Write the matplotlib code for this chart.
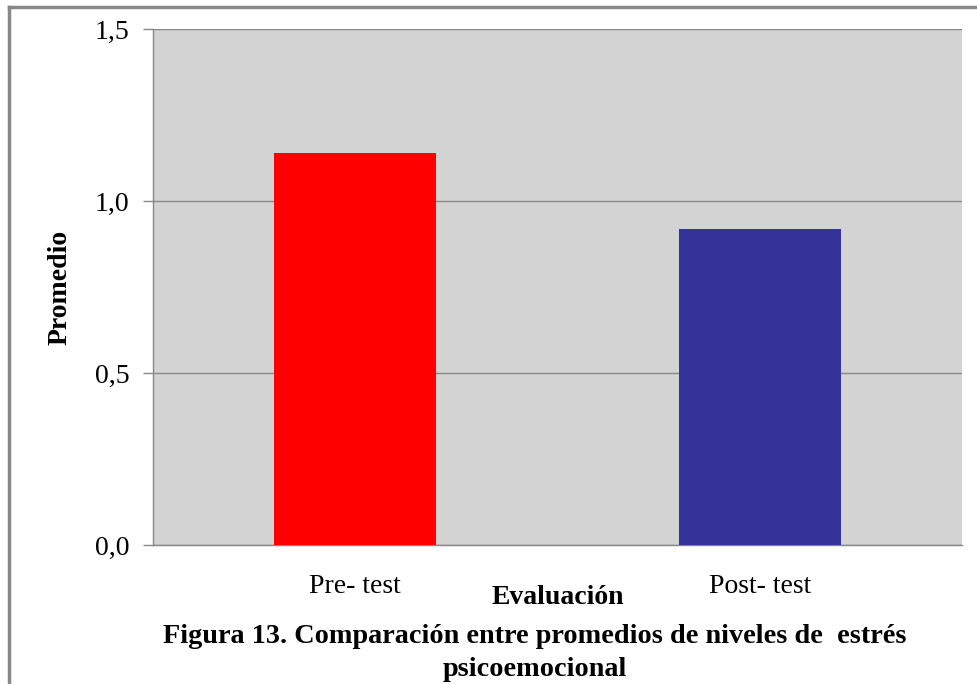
import matplotlib
matplotlib.use("Agg")
import matplotlib.pyplot as plt
from matplotlib.lines import Line2D

categories = ["Pre- test", "Post- test"]
values = [1.14, 0.92]
bar_colors = ["#FF0000", "#333399"]
yticks = [0.0, 0.5, 1.0, 1.5]
ytick_labels = ["0,0", "0,5", "1,0", "1,5"]
xlabel = "Evaluación"
ylabel = "Promedio"
title = "Figura 13. Comparación entre promedios de niveles de  estrés\npsicoemocional"

plt.rcParams['font.family'] = ['Liberation Serif', 'DejaVu Serif']

fig = plt.figure(figsize=(9.78, 6.84), dpi=100)
fig.patch.set_facecolor("white")
ax = fig.add_axes([153/978, 1-545/684, (962-153)/978, (545-29)/684])
ax.set_facecolor("#D3D3D3")

x = list(range(len(categories)))
ax.bar(x, values, width=0.4, color=bar_colors, zorder=3)
ax.set_xlim(-0.5, len(categories)-0.5)
ax.set_ylim(0, 1.5)
ax.set_yticks(yticks)
ax.set_yticklabels(ytick_labels, fontsize=20)
ax.set_xticks(x)
ax.set_xticklabels(categories, fontsize=20)
ax.tick_params(axis='y', length=7, width=1, color="#888888", pad=10)
ax.tick_params(axis='x', length=0, pad=21)
ax.yaxis.grid(True, color="#888888", linewidth=1, zorder=1)
ax.set_axisbelow(True)
for s in ["top", "right"]:
    ax.spines[s].set_visible(False)
for s in ["left", "bottom"]:
    ax.spines[s].set_color("#888888")
    ax.spines[s].set_linewidth(1)

fig.text(558/978, 1-598/684, xlabel, ha="center", va="center", fontsize=20, fontweight="bold")
fig.text(60/978, 1-287/684, ylabel, ha="center", va="center", rotation=90, fontsize=20, fontweight="bold")
fig.text(535/978, 1-653/684, title, ha="center", va="center", fontsize=20.3, fontweight="bold", linespacing=1.4)

# figure border (left and top)
fig.add_artist(Line2D([9/978, 9/978], [0, 1-7/684], color="#888888", linewidth=2.5, transform=fig.transFigure))
fig.add_artist(Line2D([9/978, 1], [1-7/684, 1-7/684], color="#888888", linewidth=2.5, transform=fig.transFigure))

fig.savefig("out.png", dpi=100)
